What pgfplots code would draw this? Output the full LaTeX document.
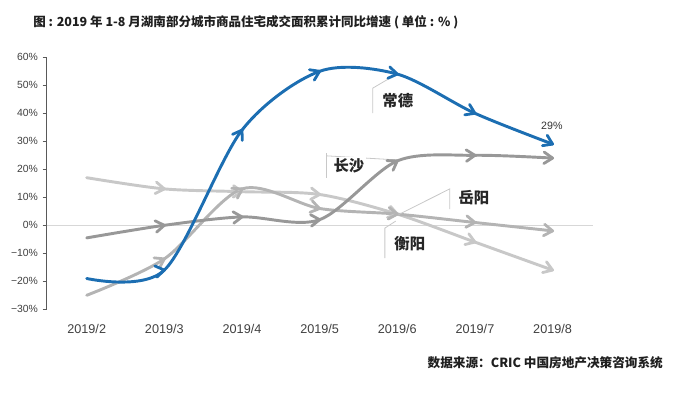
\documentclass[border=0pt]{standalone}
\usepackage{fontspec}
\setmainfont{Liberation Sans}
\newfontfamily\cjk{Noto Sans CJK SC}
\usepackage{graphicx}
\usepackage{pgfplots}
\usepackage{pgfplotstable}
\pgfplotsset{compat=1.18}

\definecolor{cdblue}{RGB}{28,110,178}
\definecolor{csgray}{RGB}{152,152,152}
\definecolor{hygray}{RGB}{200,200,200}
\definecolor{yygray}{RGB}{180,180,180}
\definecolor{leader}{RGB}{200,200,200}
\definecolor{zeroline}{RGB}{215,215,215}

\pgfdeclareplotmark{chev}{%
  \pgfpathmoveto{\pgfqpoint{-1.5\pgfplotmarksize}{\pgfplotmarksize}}%
  \pgfpathlineto{\pgfqpoint{0pt}{0pt}}%
  \pgfpathlineto{\pgfqpoint{-1.5\pgfplotmarksize}{-\pgfplotmarksize}}%
  \pgfusepathqstroke}

% x: month index (0 = 2019/2); a*: arrow angle (screen degrees)
\pgfplotstableread{
x cd acd cs acs hy ahy yy ayy
0 -19 0 -4.5 0 17 0 -25 0
1 -16 10 0 8 13 -7 -12 28
2 34 58 3 4 12 -2 13 30
3 55 25 2 5 11 -5 6 -12
4 54 -10 23 32 4 -15 4 -5
5 40 -25 25 2 -6 -20 1 -6
6 29 -25 24 -2 -16 -20 -2 -6
}\data

\newcommand{\series}[3]{%
  \addplot[#3, line width=2.2pt, smooth, line cap=round] table[x=x,y=#1]{\data};
  \addplot[scatter, only marks, mark=chev, mark size=4.3pt, line width=2.1pt,
    line join=round, line cap=round,
    skip coords between index={0}{1},
    scatter/use mapped color={draw=#3},
    visualization depends on={\thisrow{#2}\as\ang},
    scatter/@pre marker code/.append style={/tikz/rotate=\ang}]
    table[x=x,y=#1]{\data};
}

\begin{document}
\begin{tikzpicture}
\useasboundingbox (0,0) rectangle (504.75pt,294pt);
\node[anchor=west, inner sep=0, text=black!88] at (24.75pt,277.5pt)
  {\resizebox{318.75pt}{!}{\cjk\bfseries\fontsize{10.5}{12}\selectfont 图 : 2019 年 1-8 月湖南部分城市商品住宅成交面积累计同比增速 ( 单位 : \% )}};
\node[anchor=east, inner sep=0, text=black!88] at (497.25pt,21.75pt)
  {\resizebox{176.25pt}{!}{\cjk\bfseries\fontsize{9.5}{11}\selectfont 数据来源：CRIC 中国房地产决策咨询系统}};
\begin{axis}[
  at={(35.03pt,62.03pt)}, anchor=south west,
  scale only axis, width=409.7pt, height=189pt,
  xmin=-0.515, xmax=6.52, ymin=-30, ymax=60,
  axis lines*=left,
  x axis line style={draw=none},
  xtick style={draw=none},
  y axis line style={draw=black!65, line width=0.8pt},
  ytick style={draw=black!65, line width=0.8pt},
  tick align=outside, major tick length=3pt,
  xtick={0,1,2,3,4,5,6},
  xticklabels={2019/2,2019/3,2019/4,2019/5,2019/6,2019/7,2019/8},
  ytick={-30,-20,-10,0,10,20,30,40,50,60},
  yticklabels={−30\%,−20\%,−10\%,0\%,10\%,20\%,30\%,40\%,50\%,60\%},
  xticklabel style={font=\fontsize{9.5}{10}\selectfont, text=black!75, yshift=-5pt},
  yticklabel style={font=\fontsize{7.8}{9}\selectfont, text=black!75},
  clip=false,
]
\addplot[zeroline, line width=0.6pt] coordinates {(-0.515,0) (6.52,0)};
\series{hy}{ahy}{hygray}
\series{yy}{ayy}{yygray}
\series{cs}{acs}{csgray}
\series{cd}{acd}{cdblue}

% callout leaders
\draw[leader, line width=0.6pt] (axis cs:3.685,40.1) -- (axis cs:3.685,49.0) -- (axis cs:3.968,53.6);
\draw[leader, line width=0.6pt] (axis cs:3.092,16.9) -- (axis cs:3.092,25.8);
\draw[leader, line width=0.6pt] (axis cs:3.092,24.8) -- (axis cs:3.968,23.4);
\draw[leader, line width=0.6pt] (axis cs:4.676,5.8) -- (axis cs:4.676,13.0) -- (axis cs:4.007,3.7);
\draw[leader, line width=0.6pt] (axis cs:3.84,-11.7) -- (axis cs:3.84,-1.0) -- (axis cs:3.98,1.5);

\node[font=\cjk\bfseries\fontsize{11.5}{12}\selectfont, text=black!85] at (axis cs:4.006,44.4) {常德};
\node[font=\cjk\bfseries\fontsize{11.5}{12}\selectfont, text=black!85, fill=white, inner sep=1pt] at (axis cs:3.376,21.2) {长沙};
\node[font=\cjk\bfseries\fontsize{11.5}{12}\selectfont, text=black!85] at (axis cs:4.987,9.75) {岳阳};
\node[font=\cjk\bfseries\fontsize{11.5}{12}\selectfont, text=black!85] at (axis cs:4.161,-6.7) {衡阳};
\node[font=\fontsize{8}{9}\selectfont, text=black!80] at (axis cs:5.99,35.4) {29\%};
\end{axis}
\end{tikzpicture}
\end{document}
